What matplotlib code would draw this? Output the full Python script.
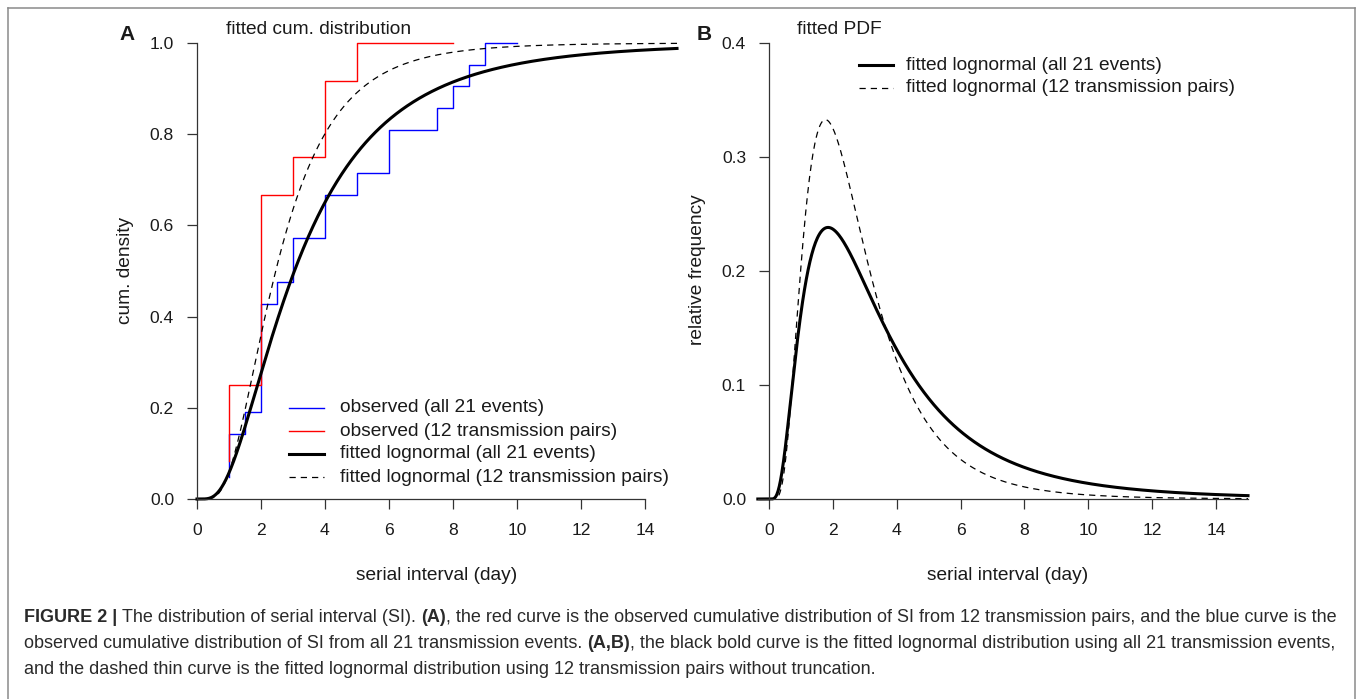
import math
import numpy as np
import matplotlib
matplotlib.use("Agg")
import matplotlib.pyplot as plt
from matplotlib.lines import Line2D

plt.rcParams['font.family'] = ['Liberation Sans', 'DejaVu Sans']

# --- data ---
# observed serial intervals (days), sorted
si_all21 = [1, 1, 1, 1.5, 2, 2, 2, 2, 2, 2.5, 3, 3, 4, 4, 5, 6, 6, 7.5, 8, 8.5, 9]
si_pairs12 = [1, 1, 1, 2, 2, 2, 2, 2, 3, 4, 4, 5]
end_all21 = 10     # blue step line is drawn on to day 10
end_pairs12 = 8    # red step line is drawn on to day 8

# fitted lognormal parameters (meanlog, sdlog)
fit_all21 = (1.113, 0.706)
fit_pairs12 = (0.90, 0.575)

x_ticks = [0, 2, 4, 6, 8, 10, 12, 14]
yticks_a = [0.0, 0.2, 0.4, 0.6, 0.8, 1.0]
yticks_b = [0.0, 0.1, 0.2, 0.3, 0.4]

legend_a = ["observed (all 21 events)", "observed (12 transmission pairs)",
            "fitted lognormal (all 21 events)", "fitted lognormal (12 transmission pairs)"]
legend_b = legend_a[2:]

caption = [
    [("FIGURE 2 |", True, False), ("The distribution of serial interval (SI).", False, True),
     ("(A)", True, True),
     (", the red curve is the observed cumulative distribution of SI from 12 transmission pairs, and the blue curve is the", False, False)],
    [("observed cumulative distribution of SI from all 21 transmission events.", False, False),
     ("(A,B)", True, True),
     (", the black bold curve is the fitted lognormal distribution using all 21 transmission events,", False, False)],
    [("and the dashed thin curve is the fitted lognormal distribution using 12 transmission pairs without truncation.", False, False)],
]

W, H = 1358, 699
TXT = '#1a1a1a'
AXC = '#333333'

erf = np.vectorize(math.erf)


def lnorm_cdf(x, mu, s):
    xx = np.where(x > 0, x, 1.0)
    return np.where(x > 0, 0.5 * (1 + erf((np.log(xx) - mu) / (s * math.sqrt(2)))), 0.0)


def lnorm_pdf(x, mu, s):
    xx = np.where(x > 0, x, 1.0)
    v = np.exp(-(np.log(xx) - mu) ** 2 / (2 * s * s)) / (xx * s * math.sqrt(2 * math.pi))
    return np.where(x > 0, v, 0.0)


def fx(px):
    return px / W


def fy(py):
    return 1 - py / H


fig = plt.figure(figsize=(W / 100, H / 100), dpi=100)

axA = fig.add_axes([fx(197), fy(499), (677 - 197) / W, (499 - 43) / H])
axB = fig.add_axes([fx(769), fy(499), (1248 - 769) / W, (499 - 43) / H])

blue_kw = dict(color='#0000ff', lw=1.0)
red_kw = dict(color='#ff0000', lw=1.0)
solid_kw = dict(color='black', lw=2.2)
dash_kw = dict(color='black', lw=0.9, linestyle=(0, (5, 4)))

# panel A: cumulative
xa = np.linspace(0, 15, 800)
n1, n2 = len(si_all21), len(si_pairs12)
axA.plot(si_all21 + [end_all21], [(i + 1) / n1 for i in range(n1)] + [1.0],
         drawstyle='steps-post', clip_on=False, **blue_kw)
axA.plot(si_pairs12 + [end_pairs12], [(i + 1) / n2 for i in range(n2)] + [1.0],
         drawstyle='steps-post', clip_on=False, **red_kw)
axA.plot(xa, lnorm_cdf(xa, *fit_all21), clip_on=False, **solid_kw)
axA.plot(xa, lnorm_cdf(xa, *fit_pairs12), clip_on=False, **dash_kw)

# panel B: density
xb = np.linspace(-0.35, 15, 800)
axB.plot(xb, lnorm_pdf(xb, *fit_all21), clip_on=False, **solid_kw)
axB.plot(xb, lnorm_pdf(xb, *fit_pairs12), clip_on=False, **dash_kw)


def style(ax, ymax, yticks, xlo):
    for s in ['top', 'right']:
        ax.spines[s].set_visible(False)
    for s in ['left', 'bottom']:
        ax.spines[s].set_color(AXC)
        ax.spines[s].set_linewidth(0.9)
    ax.spines['left'].set_bounds(0, ymax)
    ax.spines['bottom'].set_bounds(xlo[0], xlo[1])
    ax.set_xlim(0, 15)
    ax.set_ylim(0, ymax)
    ax.set_xticks(x_ticks)
    ax.set_xticklabels([str(v) for v in x_ticks])
    ax.set_yticks(yticks)
    ax.set_yticklabels(['%.1f' % v for v in yticks])
    ax.tick_params(direction='out', length=7.5, width=0.9, color=AXC,
                   labelsize=12.6, labelcolor=TXT)
    ax.tick_params(axis='x', pad=10)
    ax.tick_params(axis='y', pad=9)
    ax.patch.set_visible(False)


style(axA, 1.0, yticks_a, (0, 14))
style(axB, 0.4, yticks_b, (-0.35, 15))

FS = 13.8


def legend(rows_y, x0, x1, xt, labels, kws):
    for y, lab, kw in zip(rows_y, labels, kws):
        fig.add_artist(Line2D([fx(x0), fx(x1)], [fy(y), fy(y)], transform=fig.transFigure, **kw))
        fig.text(fx(xt), fy(y), lab, fontsize=FS, color=TXT, va='center', ha='left')


legend([408, 431, 454, 477], 289, 324, 340, legend_a, [blue_kw, red_kw, solid_kw, dash_kw])
legend([65, 88], 859, 893, 906, legend_b, [solid_kw, dash_kw])

# titles, letters, labels
fig.text(fx(226), fy(30), "fitted cum. distribution", fontsize=FS, color=TXT, va='center')
fig.text(fx(797), fy(30), "fitted PDF", fontsize=FS, color=TXT, va='center')
fig.text(fx(127), fy(34), "A", fontsize=15, fontweight='bold', color=TXT, va='center', ha='center')
fig.text(fx(704), fy(34), "B", fontsize=15, fontweight='bold', color=TXT, va='center', ha='center')
fig.text(fx(126), fy(270), "cum. density", fontsize=FS, color=TXT, rotation=90, va='center', ha='center')
fig.text(fx(698), fy(270), "relative frequency", fontsize=FS, color=TXT, rotation=90, va='center', ha='center')
fig.text(fx(437), fy(575), "serial interval (day)", fontsize=FS, color=TXT, va='center', ha='center')
fig.text(fx(1008), fy(575), "serial interval (day)", fontsize=FS, color=TXT, va='center', ha='center')

# frame round the figure
for xs, ys in [([8, 8], [H + 5, 8]), ([8, 1355], [8, 8]), ([1355, 1355], [8, H + 5])]:
    fig.add_artist(Line2D([fx(v) for v in xs], [fy(v) for v in ys], transform=fig.transFigure,
                          color='#8a8a8a', lw=1.1))

# caption, sized so the first line fills the width
r = fig.canvas.get_renderer()
probe = fig.text(0, 0, " ".join(p[0] for p in caption[0]), fontsize=10)
cap_fs = 10 * (1340 - 24) / probe.get_window_extent(renderer=r).width
probe.remove()
sp = fig.text(0, 0, "a a", fontsize=cap_fs)
sp2 = fig.text(0, 0, "aa", fontsize=cap_fs)
space_w = sp.get_window_extent(renderer=r).width - sp2.get_window_extent(renderer=r).width
sp.remove()
sp2.remove()

CAPC = '#2a2a2a'
for y, pieces in zip([618, 644, 669], caption):
    x = 24
    for txt, bold, space_before in pieces:
        if space_before:
            x += space_w
        t = fig.text(fx(x), fy(y), txt, fontsize=cap_fs, color=CAPC, va='center', ha='left',
                     fontweight='bold' if bold else 'normal')
        x = t.get_window_extent(renderer=r).x1

fig.savefig("out.png", dpi=100)
